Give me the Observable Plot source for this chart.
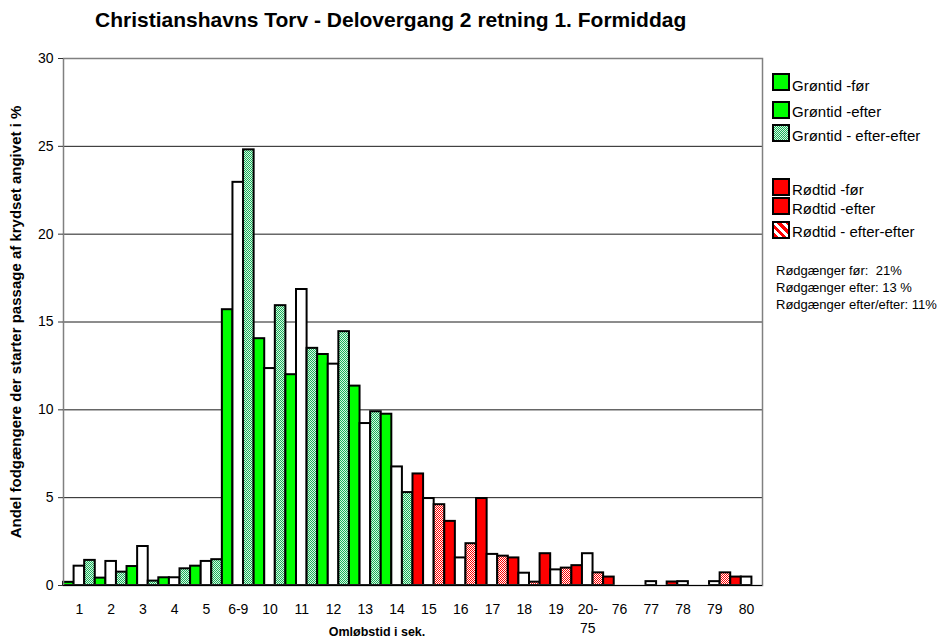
<!DOCTYPE html>
<html>
<head>
<meta charset="utf-8">
<script src="https://cdn.jsdelivr.net/npm/d3@7"></script>
<script src="https://cdn.jsdelivr.net/npm/@observablehq/plot@0.6"></script>
<style>
  body { margin: 0; background: #fff; font-family: "Liberation Sans", Arial, sans-serif; color: #000; }
  #wrap { position: relative; width: 945px; height: 644px; overflow: hidden; }
  #title { position: relative; height: 50px; }
  #title span { position: absolute; left: 95px; top: 8px; font-weight: bold; font-size: 21px; white-space: nowrap; }
  #ylabel { position: absolute; left: -234px; top: 314px; width: 500px; text-align: center; line-height: 16px;
            transform: rotate(-90deg); font-weight: bold; font-size: 15px; white-space: nowrap; }
  #xlabel { position: absolute; left: 277px; top: 625px; width: 200px; text-align: center; font-weight: bold; font-size: 12.5px; }
  .lg { position: absolute; font-size: 15px; white-space: nowrap; }
  .sw { position: absolute; width: 14px; height: 14px; border: 2px solid #000; box-sizing: content-box; }
  .note { position: absolute; left: 776px; font-size: 13px; white-space: pre; }
</style>
</head>
<body>
<div id="wrap">
  <div id="title"><span>Christianshavns Torv - Delovergang 2 retning 1. Formiddag</span></div>
  <div id="chart"></div>
  <div id="ylabel">Andel fodgængere der starter passage af krydset angivet i %</div>
  <div id="xlabel">Omløbstid i sek.</div>
  <div id="legend"></div>
</div>
<script>
// ---- data ----
const categories = ["1","2","3","4","5","6-9","10","11","12","13","14","15","16","17","18","19","20-75","76","77","78","79","80"];
const phase = ["grøn","grøn","grøn","grøn","grøn","grøn","grøn","grøn","grøn","grøn","grøn",
               "rød","rød","rød","rød","rød","rød","rød","rød","rød","rød","rød"];
const foer       = [0.18, 0.42, 1.08, 0.44, 1.10, 15.7, 14.05, 12.0, 13.15, 11.35, 9.75, 6.35, 3.65, 4.95, 1.57, 1.81, 1.13, 0.48, 0,    0.2,  0,    0.48];
const efter      = [1.10, 1.37, 2.22, 0.44, 1.37, 22.95, 12.35, 16.85, 12.6, 9.22, 6.75, 4.95, 1.57, 1.77, 0.70, 0.89, 1.81, 0,    0.22, 0.22, 0.22, 0.48];
const efterEfter = [1.43, 0.76, 0.25, 0.95, 1.47, 24.8, 15.93, 13.5, 14.45, 9.89, 5.29, 4.6,  2.38, 1.67, 0.19, 0.99, 0.72, 0,    0,    0,    0.72, 0];
const series = ["før", "efter", "efter-efter"];
const yTicks = [0, 5, 10, 15, 20, 25, 30];
const gridValues = [5, 10, 15, 20, 25];
const legendGreen = ["Grøntid -før", "Grøntid -efter", "Grøntid - efter-efter"];
const legendRed = ["Rødtid -før", "Rødtid -efter", "Rødtid - efter-efter"];
const notes = ["Rødgænger før:  21%", "Rødgænger efter: 13 %", "Rødgænger efter/efter: 11%"];

// ---- table ----
const valuesBySerie = {"før": foer, "efter": efter, "efter-efter": efterEfter};
const rows = [];
categories.forEach((c, i) => {
  series.forEach(s => {
    rows.push({cat: c, serie: s, key: c + "|" + s, value: valuesBySerie[s][i], phase: phase[i]});
  });
});
const keys = rows.map(d => d.key);
const fillOf = d => d.serie === "efter" ? "#ffffff"
  : d.phase === "grøn" ? (d.serie === "før" ? "#00ff00" : "url(#dotGreen)")
  : (d.serie === "før" ? "#ff0000" : "url(#dotRed)");

const chart = Plot.plot({
  width: 945,
  height: 594,
  marginLeft: 63,
  marginRight: 183,
  marginTop: 8,
  marginBottom: 59,
  style: {fontFamily: "'Liberation Sans', Arial, sans-serif", fontSize: "14px", color: "#000", background: "#fff"},
  x: {domain: keys, padding: 0},
  y: {domain: [0, 30]},
  color: {type: "identity"},
  marks: [
    Plot.ruleY(gridValues, {stroke: "#000", strokeWidth: 0.9}),
    Plot.barY(rows.filter(d => d.value > 0), {
      x: "key", y: "value", fill: fillOf, stroke: "#000", strokeWidth: 2, inset: 0
    }),
    Plot.frame({stroke: "#808080", strokeWidth: 1.5}),
    Plot.ruleY([0], {stroke: "#000", strokeWidth: 1.2}),
    Plot.axisY({ticks: yTicks, tickSize: 5, tickPadding: 5, label: null, fontSize: 14, stroke: "#333"}),
    Plot.axisX({
      ticks: categories.map(c => c + "|efter"),
      tickFormat: d => { const c = d.split("|")[0]; return c === "20-75" ? "20-\n75" : c; },
      tickSize: 0, tickPadding: 16, label: null, fontSize: 14, lineHeight: 1.3
    })
  ]
});

// patterns
const defs = d3.select(chart).insert("defs", ":first-child");
function checker(id, dark, light) {
  const p = defs.append("pattern").attr("id", id).attr("patternUnits", "userSpaceOnUse")
    .attr("width", 2).attr("height", 2);
  p.append("rect").attr("width", 2).attr("height", 2).attr("fill", light);
  p.append("rect").attr("x", 0).attr("y", 0).attr("width", 1).attr("height", 1).attr("fill", dark);
  p.append("rect").attr("x", 1).attr("y", 1).attr("width", 1).attr("height", 1).attr("fill", dark);
}
checker("dotGreen", "#19b25a", "#d8f5e2");
checker("dotRed", "#ff0000", "#ffffff");
document.getElementById("chart").appendChild(chart);

// legend
const lg = document.getElementById("legend");
const greenTops = [73, 101, 124];
const redTops = [178, 197, 221];
const textTops = [77, 103, 127, 181, 200, 223];
const greenFills = ["#00ff00", "#00ff00", "repeating-conic-gradient(#19b25a 0 25%, #d8f5e2 0 50%) 0 0/2px 2px"];
const redFills = ["#ff0000", "#ff0000", "repeating-linear-gradient(45deg, #ff0000 0 3px, #ffffff 3px 6px)"];
function addItem(label, top, textTop, bg) {
  const sw = document.createElement("div");
  sw.className = "sw";
  sw.style.left = "772px"; sw.style.top = top + "px"; sw.style.background = bg;
  lg.appendChild(sw);
  const t = document.createElement("div");
  t.className = "lg";
  t.style.left = "792px"; t.style.top = textTop + "px";
  t.textContent = label;
  lg.appendChild(t);
}
legendGreen.forEach((l, i) => addItem(l, greenTops[i], textTops[i], greenFills[i]));
legendRed.forEach((l, i) => addItem(l, redTops[i], textTops[i + 3], redFills[i]));
const noteTops = [263, 280, 297];
notes.forEach((n, i) => {
  const d = document.createElement("div");
  d.className = "note"; d.style.top = noteTops[i] + "px"; d.textContent = n;
  lg.appendChild(d);
});
</script>
</body>
</html>
